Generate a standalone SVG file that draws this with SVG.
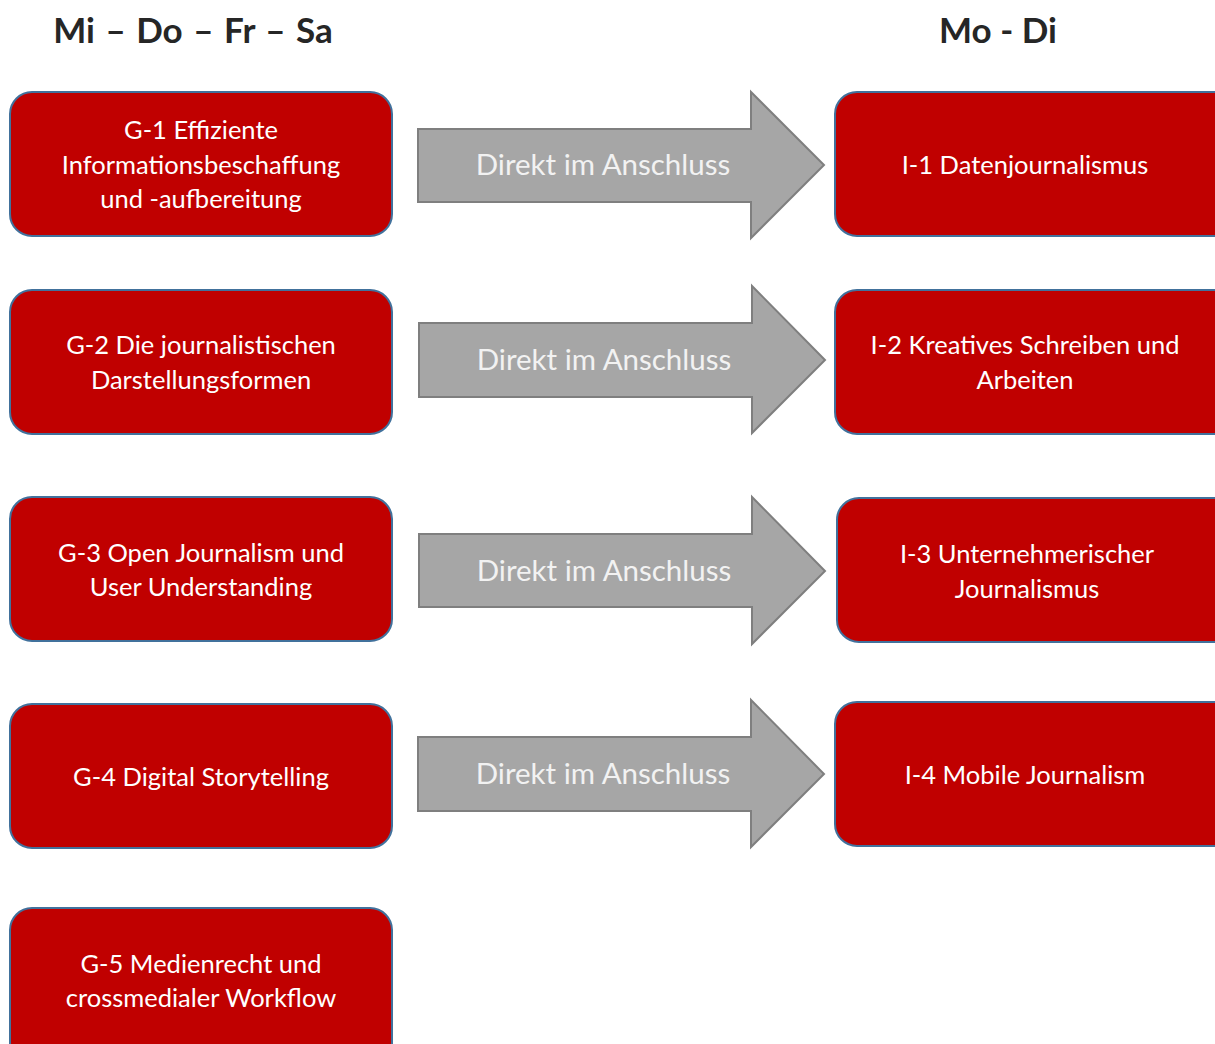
<svg xmlns="http://www.w3.org/2000/svg" width="1215" height="1044" viewBox="0 0 1215 1044">
<style>
.box{fill:#C00000;stroke:#41719C;stroke-width:2}
.arr{fill:#A6A6A6;stroke:#7F7F7F;stroke-width:2}
.t{font-family:Lato,"Noto Sans",sans-serif;font-size:25.5px;fill:#FFFFFF;text-anchor:middle}
.a{font-family:Lato,"Noto Sans",sans-serif;font-size:29.5px;fill:#F2F2F2;text-anchor:middle}
.h{font-family:Lato,"Noto Sans",sans-serif;font-size:35px;font-weight:bold;fill:#262626;text-anchor:middle}
</style>
<rect width="1215" height="1044" fill="#FFFFFF"/>
<text class="h" x="193" y="43" word-spacing="2">Mi – Do – Fr – Sa</text>
<text class="h" x="998" y="43">Mo - Di</text>
<g id="connectors">
<path class="arr" d="M418,129 H751 V92 L824,165 L751,238 V202 H418 Z"/>
<text class="a" x="603" y="175">Direkt im Anschluss</text>
<path class="arr" d="M419,323 H752 V286 L825,360 L752,433 V397 H419 Z"/>
<text class="a" x="604" y="370">Direkt im Anschluss</text>
<path class="arr" d="M419,534 H752 V497 L825,571 L752,644 V607 H419 Z"/>
<text class="a" x="604" y="581">Direkt im Anschluss</text>
<path class="arr" d="M418,737 H751 V700 L824,774 L751,847 V811 H418 Z"/>
<text class="a" x="603" y="784">Direkt im Anschluss</text>
</g>
<g id="G1"><rect class="box" x="10" y="92" width="382" height="144" rx="22"/>
<text class="t" x="201" y="139">G-1 Effiziente</text><text class="t" x="201" y="174">Informationsbeschaffung</text><text class="t" x="201" y="208">und -aufbereitung</text></g>
<g id="G2"><rect class="box" x="10" y="290" width="382" height="144" rx="22"/>
<text class="t" x="201" y="354">G-2 Die journalistischen</text><text class="t" x="201" y="389">Darstellungsformen</text></g>
<g id="G3"><rect class="box" x="10" y="497" width="382" height="144" rx="22"/>
<text class="t" x="201" y="562">G-3 Open Journalism und</text><text class="t" x="201" y="596">User Understanding</text></g>
<g id="G4"><rect class="box" x="10" y="704" width="382" height="144" rx="22"/>
<text class="t" x="201" y="786">G-4 Digital Storytelling</text></g>
<g id="G5"><rect class="box" x="10" y="908" width="382" height="160" rx="22"/>
<text class="t" x="201" y="973">G-5 Medienrecht und</text><text class="t" x="201" y="1007">crossmedialer Workflow</text></g>
<g id="I1"><rect class="box" x="835" y="92" width="400" height="144" rx="22"/>
<text class="t" x="1025" y="174">I-1 Datenjournalismus</text></g>
<g id="I2"><rect class="box" x="835" y="290" width="400" height="144" rx="22"/>
<text class="t" x="1025" y="354">I-2 Kreatives Schreiben und</text><text class="t" x="1025" y="389">Arbeiten</text></g>
<g id="I3"><rect class="box" x="837" y="498" width="400" height="144" rx="22"/>
<text class="t" x="1027" y="563">I-3 Unternehmerischer</text><text class="t" x="1027" y="598">Journalismus</text></g>
<g id="I4"><rect class="box" x="835" y="702" width="400" height="144" rx="22"/>
<text class="t" x="1025" y="784">I-4 Mobile Journalism</text></g>
</svg>
